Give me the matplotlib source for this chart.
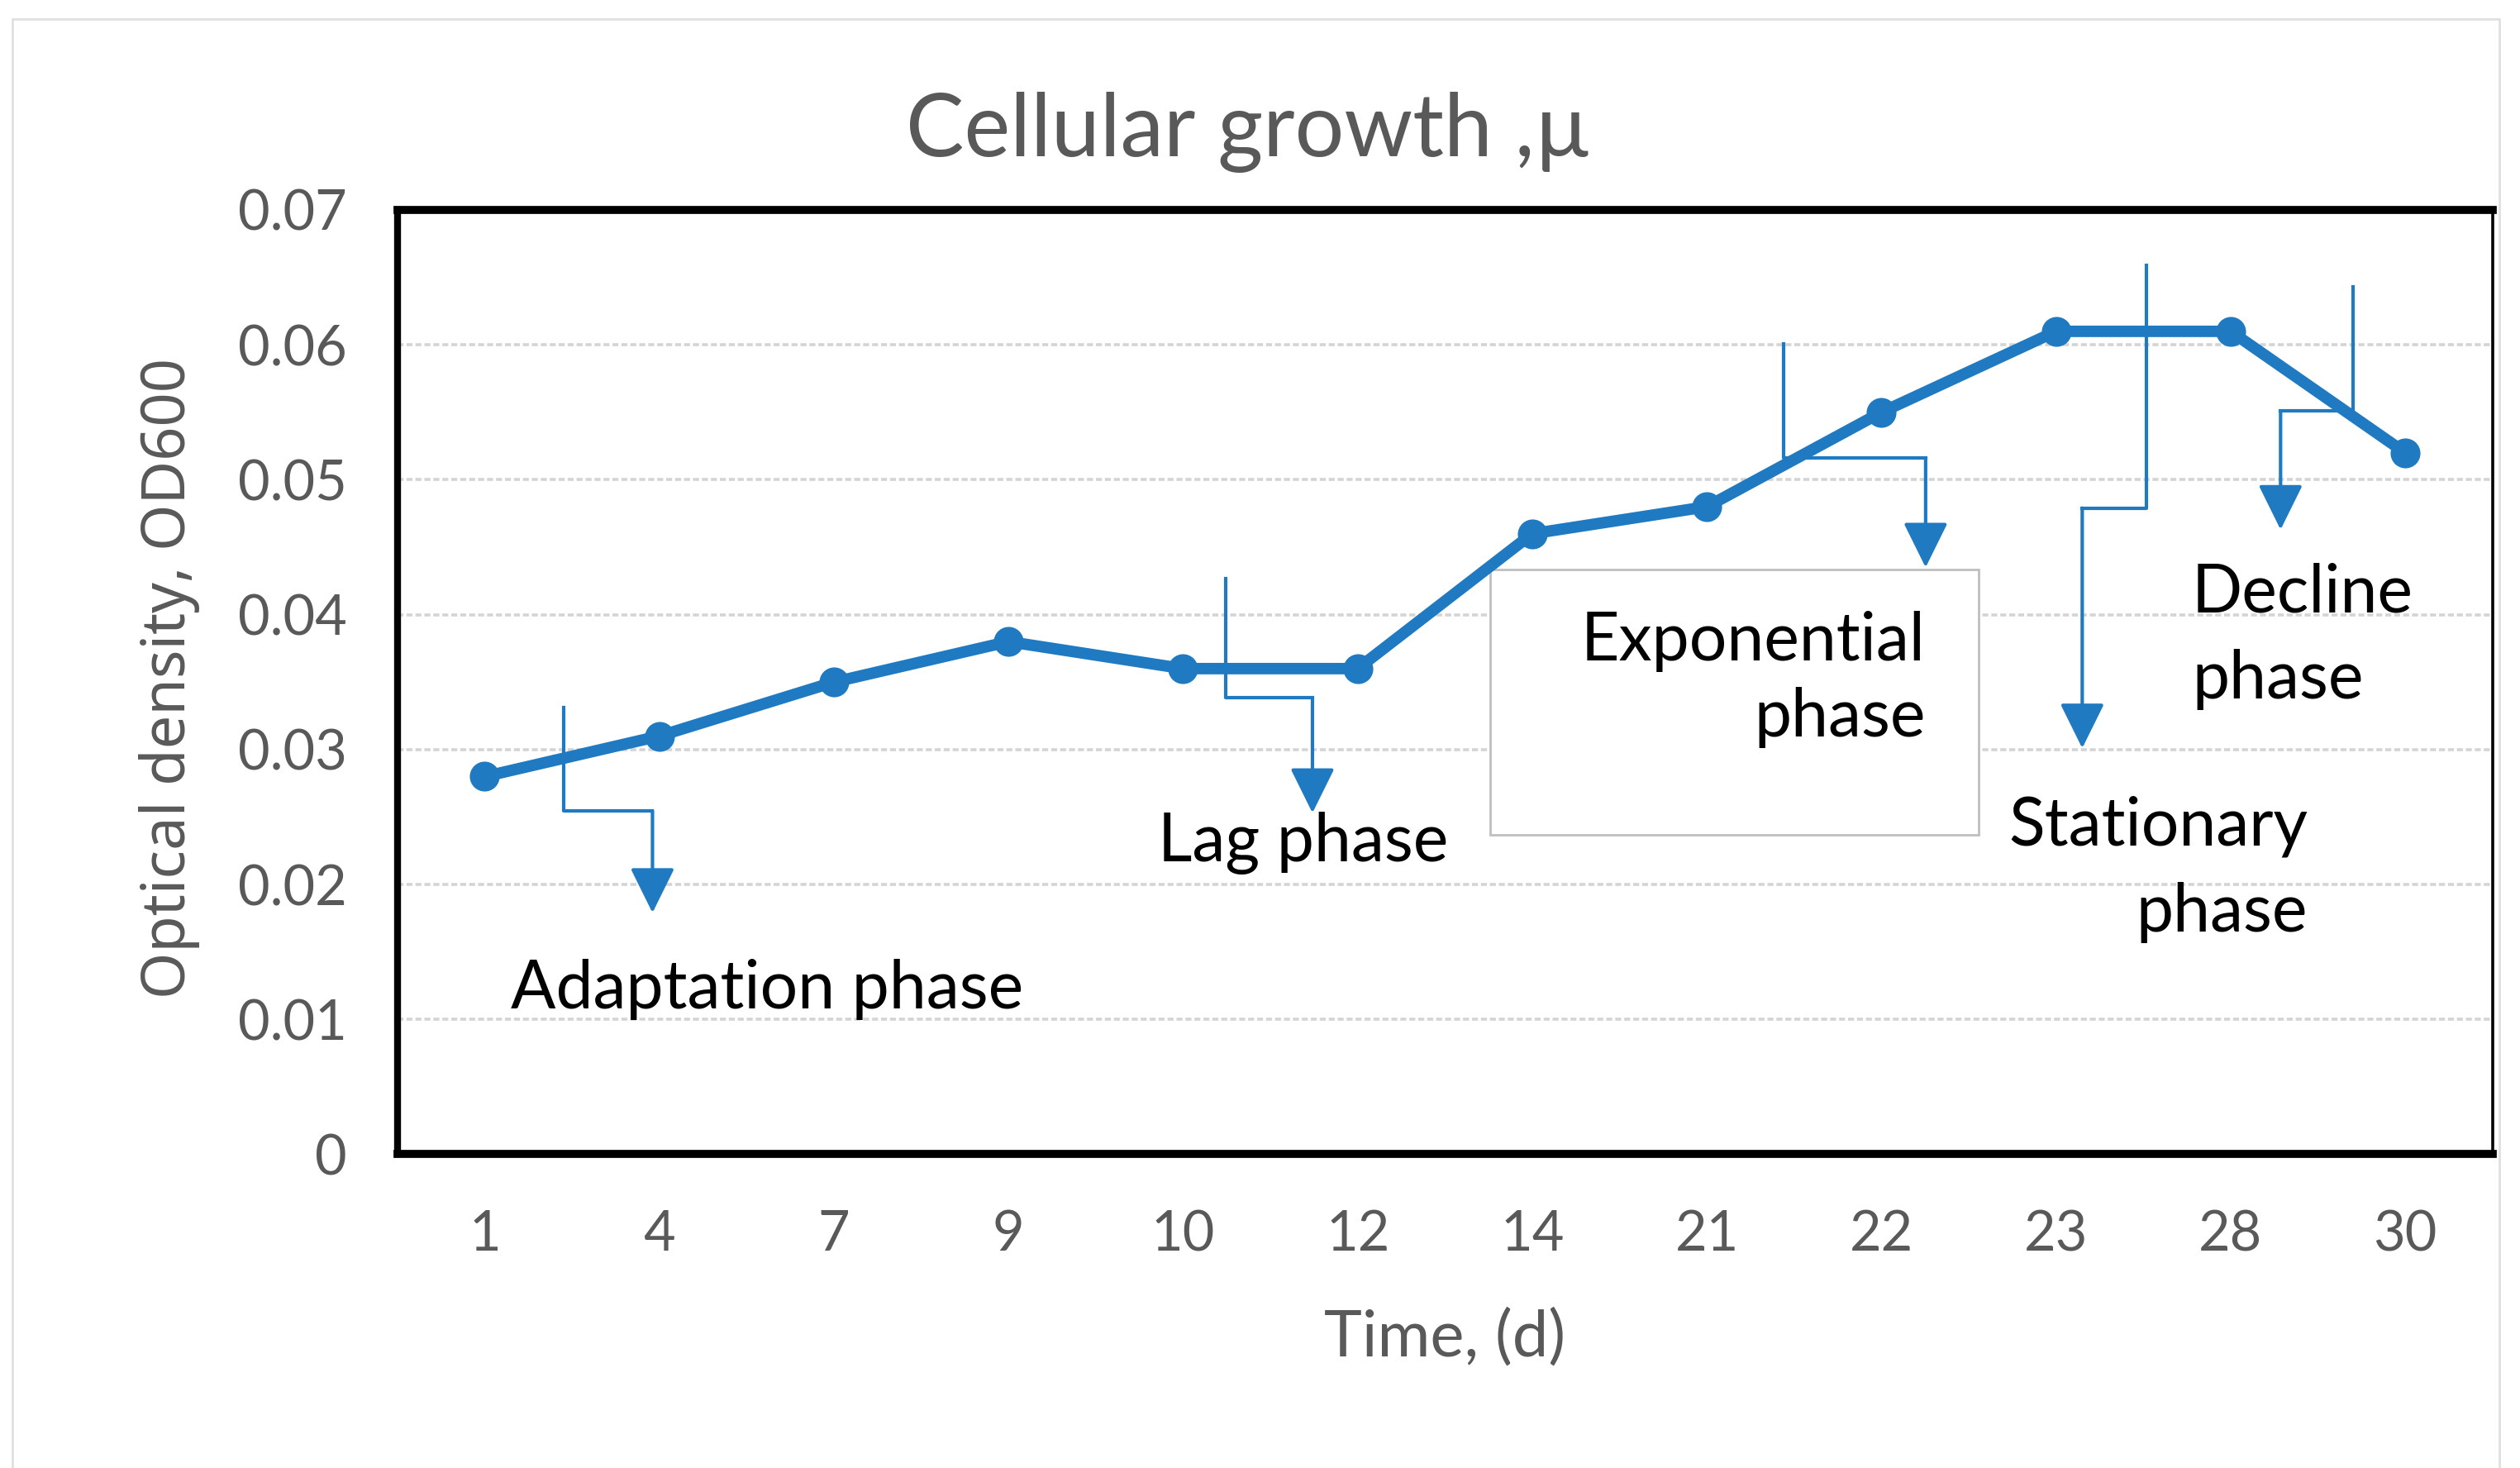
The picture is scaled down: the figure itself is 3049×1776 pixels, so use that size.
import matplotlib
matplotlib.use("Agg")
import matplotlib.pyplot as plt
from matplotlib.patches import Rectangle

# data
days = ["1", "4", "7", "9", "10", "12", "14", "21", "22", "23", "28", "30"]
od600 = [0.028, 0.031, 0.035, 0.038, 0.036, 0.036, 0.046, 0.048, 0.055, 0.061, 0.061, 0.052]
y_ticks = [0, 0.01, 0.02, 0.03, 0.04, 0.05, 0.06, 0.07]
y_tick_labels = ["0", "0.01", "0.02", "0.03", "0.04", "0.05", "0.06", "0.07"]

blue = "#1f7ac2"
grey = "#595959"
plt.rcParams["font.family"] = ["Lato", "DejaVu Sans"]

fig = plt.figure(figsize=(15.245, 8.88), dpi=200)
ax = fig.add_axes([0.1577, 0.2137, 0.9891 - 0.1577, 0.857 - 0.2137])

x = list(range(len(days)))
ax.plot(x, od600, color=blue, lw=5.0, marker="o", ms=12, zorder=3)

ax.set_xlim(-0.5, len(days) - 0.5)
ax.set_ylim(0, 0.07)
ax.set_xticks(x)
ax.set_xticklabels(days)
ax.set_yticks(y_ticks)
ax.set_yticklabels(y_tick_labels)
ax.tick_params(axis="both", length=0, labelsize=24, labelcolor=grey)
ax.tick_params(axis="y", pad=22)
ax.tick_params(axis="x", pad=24)
ax.grid(axis="y", color="#d4d4d4", lw=1.3, ls=(0, (2, 1)))
ax.set_axisbelow(True)
for side, w in [("left", 3.0), ("top", 3.5), ("right", 1.3), ("bottom", 3.5)]:
    ax.spines[side].set_linewidth(w)
    ax.spines[side].set_color("black")

# elbow connectors: (x, y) path, last point is the arrow tip
connectors = [
    [(0.453, 0.0331), (0.453, 0.02545), (0.961, 0.02545), (0.961, 0.0179)],
    [(4.242, 0.0427), (4.242, 0.03385), (4.741, 0.03385), (4.741, 0.0253)],
    [(7.44, 0.0601), (7.44, 0.0516), (8.253, 0.0516), (8.253, 0.0435)],
    [(9.519, 0.0659), (9.519, 0.0479), (9.15, 0.0479), (9.15, 0.0301)],
    [(10.70, 0.0643), (10.70, 0.0551), (10.286, 0.0551), (10.286, 0.0463)],
]
for path in connectors:
    xs = [p[0] for p in path[:-1]]
    ys = [p[1] for p in path[:-1]]
    ax.plot(xs, ys, color=blue, lw=1.5, zorder=2)
    ax.annotate("", xy=path[-1], xytext=path[-2],
                arrowprops=dict(arrowstyle="-|>,head_length=0.85,head_width=0.42",
                                color=blue, lw=1.5, shrinkA=0, shrinkB=0,
                                mutation_scale=20),
                zorder=2)

ax.add_patch(Rectangle((5.758, 0.02365), 8.558 - 5.758, 0.04334 - 0.02365,
                       facecolor="white", edgecolor="#bfbfbf", lw=1.0, zorder=2.5))

fs = 29
ax.text(0.148, 0.01224, "Adaptation phase", fontsize=fs, va="center", ha="left", zorder=4)
ax.text(3.854, 0.02305, "Lag phase", fontsize=fs, va="center", ha="left", zorder=4)
ax.text(8.253, 0.0352, "Exponential\nphase", fontsize=fs, va="center", ha="right",
        multialignment="right", linespacing=1.3, zorder=4)
ax.text(10.44, 0.0211, "Stationary\nphase", fontsize=fs, va="center", ha="right",
        multialignment="right", linespacing=1.5, zorder=4)
ax.text(9.778, 0.0384, "Decline\nphase", fontsize=fs, va="center", ha="left",
        multialignment="left", linespacing=1.5, zorder=4)

fig.text(0.4955, 0.9098, "Cellular growth ,\u00b5", fontsize=38, color=grey,
         ha="center", va="center")
fig.text(0.0673, 0.5378, "Optical density, OD600", fontsize=26, color=grey,
         rotation=90, ha="center", va="center", family=["Noto Sans", "DejaVu Sans"])
fig.text(0.5734, 0.0888, "Time, (d)", fontsize=28, color=grey, ha="center", va="center")

# faint outer chart-area border
fig.patches.append(Rectangle((0.005, -0.1), 0.9918 - 0.005, 0.987 + 0.1,
                             transform=fig.transFigure, fill=False,
                             edgecolor="#e0e0e0", lw=1.0))

fig.savefig("out.png", dpi=200)
